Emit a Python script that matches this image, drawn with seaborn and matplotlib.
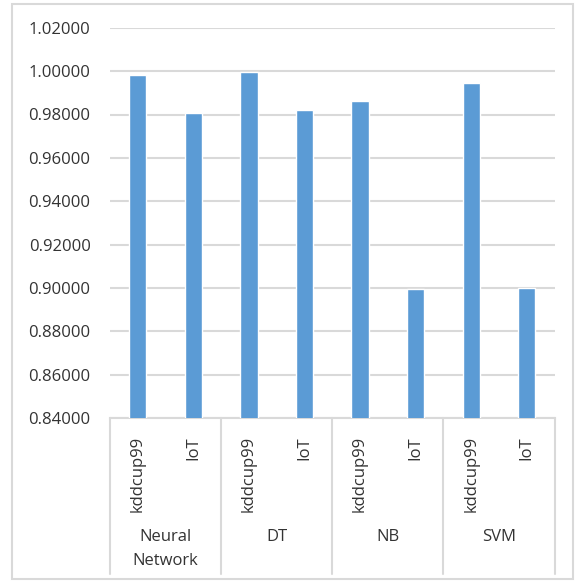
import matplotlib
matplotlib.use("Agg")
import matplotlib.pyplot as plt
from matplotlib.lines import Line2D
from matplotlib.patches import Rectangle
from matplotlib.transforms import blended_transform_factory
import seaborn as sns
import pandas as pd

# Accuracy of each classifier on the two datasets
models = ["Neural\nNetwork", "DT", "NB", "SVM"]
datasets = ["kddcup99", "IoT"]
kddcup99_scores = [0.9980, 0.9997, 0.9862, 0.9943]
iot_scores = [0.9806, 0.9823, 0.8994, 0.8999]
y_ticks = [0.84, 0.86, 0.88, 0.90, 0.92, 0.94, 0.96, 0.98, 1.00, 1.02]

rows = []
for m, k, i in zip(models, kddcup99_scores, iot_scores):
    rows.append({"slot": f"{m}|kddcup99", "model": m, "dataset": "kddcup99", "score": k})
    rows.append({"slot": f"{m}|IoT", "model": m, "dataset": "IoT", "score": i})
df = pd.DataFrame(rows)

sns.set_theme(style="white")
plt.rcParams["font.family"] = ["Open Sans", "DejaVu Sans"]
text_color = "#333333"
grid_color = "#d9d9d9"
bar_color = "#5b9bd5"

W, H = 575, 583
fig = plt.figure(figsize=(W / 100, H / 100), dpi=100)
ax = fig.add_axes([110 / W, 1 - 418.3 / H, (554.5 - 110) / W, (418.3 - 27.7) / H])

sns.barplot(data=df, x="slot", y="score", order=list(df["slot"]), color=bar_color,
            width=0.31, saturation=1, ax=ax, zorder=3)

ax.set_ylim(0.84, 1.02)
ax.set_xlim(-0.5, len(df) - 0.5)
ax.set_yticks(y_ticks)
ax.set_yticklabels([f"{v:.5f}" for v in y_ticks], fontsize=12, color=text_color)
ax.yaxis.grid(True, color=grid_color, linewidth=1.5, zorder=0)
ax.set_axisbelow(True)
ax.tick_params(axis="both", length=0)
ax.tick_params(axis="y", pad=14)
ax.tick_params(axis="x", pad=13)
ax.set_xticks(range(len(df)))
ax.set_xticklabels(df["dataset"], rotation=90, fontsize=12, color=text_color,
                   ha="center", va="top")
ax.set_xlabel("")
ax.set_ylabel("")
for side in ["left", "right", "top"]:
    ax.spines[side].set_visible(False)
ax.spines["bottom"].set_color(grid_color)
ax.spines["bottom"].set_linewidth(1.5)

# Group dividers and model names beneath the dataset labels
tr = blended_transform_factory(ax.transData, fig.transFigure)
y_top = 1 - 418.3 / H
y_bot = 1 - 574 / H
for b in range(len(models) + 1):
    xb = 2 * b - 0.5
    fig.add_artist(Line2D([xb, xb], [y_top, y_bot], transform=tr, color=grid_color,
                          linewidth=1.5, clip_on=False))
for g, m in enumerate(models):
    ax.text(2 * g + 0.5, 1 - 529 / H, m, transform=tr, ha="center", va="top",
            fontsize=12, color=text_color, linespacing=1.7)

# Outer chart frame
fig.add_artist(Rectangle((12 / W, 1 - 579 / H), (573 - 12) / W, (579 - 4) / H,
                         transform=fig.transFigure, fill=False,
                         edgecolor=grid_color, linewidth=1.5))

fig.savefig("out.png", dpi=100)
